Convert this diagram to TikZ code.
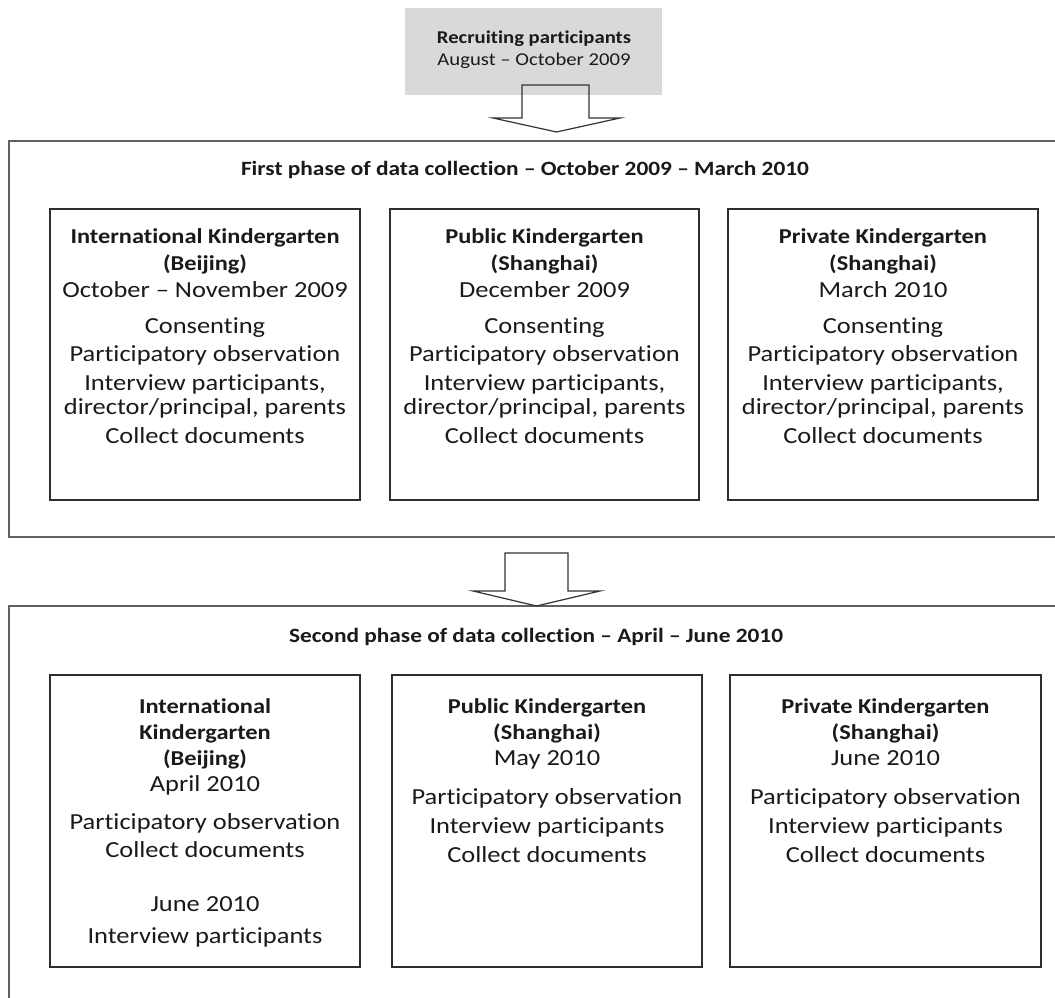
\documentclass[tikz,border=0pt]{standalone}
\usepackage{fontspec}
\setmainfont{Carlito}[FakeStretch=1.15, Ligatures=NoCommon]
\definecolor{boxgray}{HTML}{D9D9D9}
\definecolor{ink}{HTML}{1A1A1A}
\begin{document}
\begin{tikzpicture}[x=1pt,y=-1pt,
  outer/.style={draw=black!62, line width=1.5pt},
  inbox/.style={draw=black!82, line width=1.8pt, inner sep=0pt},
  grayb/.style={fill=boxgray, draw=none, inner sep=0pt},
  blockarrow/.style={draw=black!80, line width=1.2pt, line join=miter},
  ln/.style={inner sep=0pt, text=ink, text height=15pt, text depth=4pt, font=\fontsize{23}{27}\selectfont},
  bln/.style={ln, font=\fontsize{21.2}{25}\selectfont\bfseries},
  hd/.style={ln, font=\fontsize{20.3}{24}\selectfont\bfseries},
  top/.style={ln, text height=12pt, text depth=3.5pt, font=\fontsize{18}{21}\selectfont},
  topb/.style={top, font=\fontsize{18}{21}\selectfont\bfseries}]
\useasboundingbox (0,0) rectangle (1055,998);
\clip (0,0) rectangle (1055,998);
\fill[white] (0,0) rectangle (1055,998);

% recruiting box
\node[grayb, minimum width=257pt, minimum height=87pt] (rec) at (533.5,51.5) {};
\node[topb] (rec1) at (534,39) {Recruiting participants};
\node[top] (rec2) at (534,61) {August -- October 2009};

% outer boxes
\node[outer, inner sep=0pt, minimum width=1080pt, minimum height=396pt] (ph1) at (549,339) {};
\node[outer, inner sep=0pt, minimum width=1080pt, minimum height=420pt] (ph2) at (549,816) {};

% block arrows
\draw[blockarrow] (522,85) -- (589,85) -- (589,118) -- (620,118) -- (556.5,132)
  -- (493,118) -- (522,118) -- cycle;
\draw[blockarrow] (505,553) -- (568,553) -- (568,591) -- (600,591) -- (536.5,606)
  -- (473,591) -- (505,591) -- cycle;

% headings
\node[hd] (h1) at (525,170) {First phase of data collection -- October 2009 -- March 2010};
\node[hd] (h2) at (536,637) {Second phase of data collection -- April -- June 2010};

% phase 1 boxes
\node[inbox, minimum width=310pt, minimum height=291pt] (a1) at (205,354.5) {};
\node[inbox, minimum width=309pt, minimum height=291pt] (a2) at (544.5,354.5) {};
\node[inbox, minimum width=310pt, minimum height=291pt] (a3) at (883,354.5) {};

% phase 1 box 1 text
\node[bln] (a1t1) at (205,238) {International Kindergarten};
\node[bln] (a1t2) at (205,265) {(Beijing)};
\node[ln]  (a1t3) at (205,292) {October -- November 2009};
\node[ln]  (a1t4) at (205,328) {Consenting};
\node[ln]  (a1t5) at (205,356) {Participatory observation};
\node[ln]  (a1t6) at (205,385) {Interview participants,};
\node[ln]  (a1t7) at (205,409) {director/principal, parents};
\node[ln]  (a1t8) at (205,438) {Collect documents};

% phase 1 box 2 text
\node[bln] (a2t1) at (544.5,238) {Public Kindergarten};
\node[bln] (a2t2) at (544.5,265) {(Shanghai)};
\node[ln]  (a2t3) at (544.5,292) {December 2009};
\node[ln]  (a2t4) at (544.5,328) {Consenting};
\node[ln]  (a2t5) at (544.5,356) {Participatory observation};
\node[ln]  (a2t6) at (544.5,385) {Interview participants,};
\node[ln]  (a2t7) at (544.5,409) {director/principal, parents};
\node[ln]  (a2t8) at (544.5,438) {Collect documents};

% phase 1 box 3 text
\node[bln] (a3t1) at (883,238) {Private Kindergarten};
\node[bln] (a3t2) at (883,265) {(Shanghai)};
\node[ln]  (a3t3) at (883,292) {March 2010};
\node[ln]  (a3t4) at (883,328) {Consenting};
\node[ln]  (a3t5) at (883,356) {Participatory observation};
\node[ln]  (a3t6) at (883,385) {Interview participants,};
\node[ln]  (a3t7) at (883,409) {director/principal, parents};
\node[ln]  (a3t8) at (883,438) {Collect documents};

% phase 2 boxes
\node[inbox, minimum width=310pt, minimum height=292pt] (b1) at (205,821) {};
\node[inbox, minimum width=310pt, minimum height=292pt] (b2) at (547,821) {};
\node[inbox, minimum width=311pt, minimum height=292pt] (b3) at (885.5,821) {};

% phase 2 box 1 text
\node[bln] (b1t1) at (205,708) {International};
\node[bln] (b1t2) at (205,734) {Kindergarten};
\node[bln] (b1t3) at (205,760) {(Beijing)};
\node[ln]  (b1t4) at (205,786) {April 2010};
\node[ln]  (b1t5) at (205,824) {Participatory observation};
\node[ln]  (b1t6) at (205,852) {Collect documents};
\node[ln]  (b1t7) at (205,906) {June 2010};
\node[ln]  (b1t8) at (205,938) {Interview participants};

% phase 2 box 2 text
\node[bln] (b2t1) at (547,708) {Public Kindergarten};
\node[bln] (b2t2) at (547,734) {(Shanghai)};
\node[ln]  (b2t3) at (547,760) {May 2010};
\node[ln]  (b2t4) at (547,799) {Participatory observation};
\node[ln]  (b2t5) at (547,828) {Interview participants};
\node[ln]  (b2t6) at (547,857) {Collect documents};

% phase 2 box 3 text
\node[bln] (b3t1) at (885.5,708) {Private Kindergarten};
\node[bln] (b3t2) at (885.5,734) {(Shanghai)};
\node[ln]  (b3t3) at (885.5,760) {June 2010};
\node[ln]  (b3t4) at (885.5,799) {Participatory observation};
\node[ln]  (b3t5) at (885.5,828) {Interview participants};
\node[ln]  (b3t6) at (885.5,857) {Collect documents};
\end{tikzpicture}
\end{document}
